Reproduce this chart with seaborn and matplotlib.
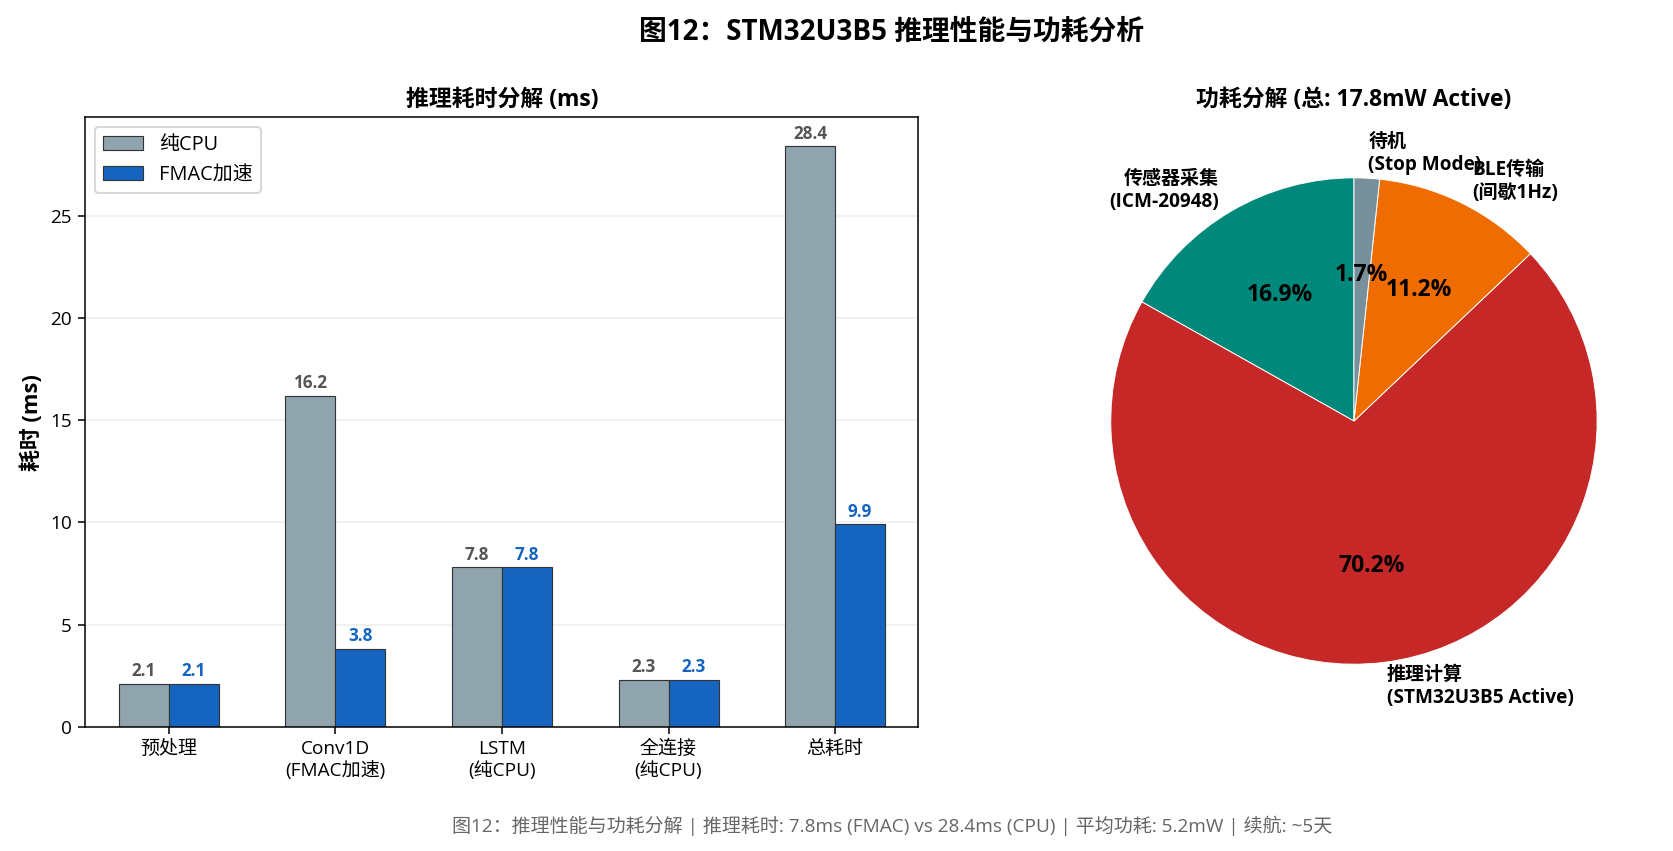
import matplotlib
matplotlib.use('Agg')
import matplotlib.pyplot as plt
import seaborn as sns
import pandas as pd

sns.set_style('ticks')
plt.rcParams['font.family'] = ['Open Sans', 'Noto Sans CJK SC', 'DejaVu Sans']
plt.rcParams.update({'axes.unicode_minus': False, 'text.color': 'black',
                     'axes.labelcolor': 'black', 'xtick.color': 'black', 'ytick.color': 'black'})

# --- data ---
stages = ['预处理', 'Conv1D\n(FMAC加速)', 'LSTM\n(纯CPU)', '全连接\n(纯CPU)', '总耗时']
cpu_ms = [2.1, 16.2, 7.8, 2.3, 28.4]
fmac_ms = [2.1, 3.8, 7.8, 2.3, 9.9]
series_names = ['纯CPU', 'FMAC加速']
bar_colors = ['#90A4AE', '#1565C0']
label_colors = ['#555555', '#1565C0']

power_labels = ['传感器采集\n(ICM-20948)', '推理计算\n(STM32U3B5 Active)', 'BLE传输\n(间歇1Hz)', '待机\n(Stop Mode)']
power_mw = [3.0, 12.5, 2.0, 0.3]
pie_colors = ['#00897B', '#C62828', '#EF6C00', '#78909C']

df = pd.DataFrame({
    'stage': stages * 2,
    'ms': cpu_ms + fmac_ms,
    'mode': [series_names[0]] * len(stages) + [series_names[1]] * len(stages),
})

DPI = 137
fig = plt.figure(figsize=(1673 / DPI, 851 / DPI), dpi=DPI)
fig.suptitle('图12：STM32U3B5 推理性能与功耗分析', fontsize=14.6, fontweight='bold', x=0.533, y=0.979)

# --- 1. inference time bars ---
ax1 = fig.add_axes([0.051, 0.146, 0.498, 0.716])
sns.barplot(data=df, x='stage', y='ms', hue='mode', palette=bar_colors, width=0.6,
            edgecolor='#333333', linewidth=0.6, saturation=1, ax=ax1)
for cont, c in zip(ax1.containers, label_colors):
    ax1.bar_label(cont, fmt='%.1f', padding=2, fontsize=9, fontweight='bold', color=c)
ax1.set_ylim(0, max(cpu_ms) * 1.05)
ax1.set_title('推理耗时分解 (ms)', fontsize=12, fontweight='bold')
ax1.set_xlabel('')
ax1.set_ylabel('耗时 (ms)', fontsize=11.5, fontweight='bold')
ax1.tick_params(labelsize=10)
ax1.yaxis.grid(True, alpha=0.35)
ax1.set_axisbelow(True)
ax1.legend(loc='upper left', fontsize=10.5, title=None)
for s in ax1.spines.values():
    s.set_visible(True)
    s.set_color('black')

# --- 2. power pie ---
ax2 = fig.add_axes([0.6276, 0.148, 0.3634, 0.7145])
wedges, texts, autotexts = ax2.pie(power_mw, labels=power_labels, colors=pie_colors,
                                   autopct='%1.1f%%', startangle=90,
                                   wedgeprops={'edgecolor': 'white', 'linewidth': 0.5},
                                   textprops={'fontsize': 10, 'fontweight': 'bold', 'color': 'black'})
for t in autotexts:
    t.set_fontsize(12)
    t.set_fontweight('bold')
ax2.set_xlim(-1.25, 1.25)
ax2.set_ylim(-1.25, 1.25)
ax2.set_title('功耗分解 (总: 17.8mW Active)', fontsize=12, fontweight='bold')

fig.text(0.533, 0.022, '图12：推理性能与功耗分解 | 推理耗时: 7.8ms (FMAC) vs 28.4ms (CPU) | 平均功耗: 5.2mW | 续航: ~5天',
         ha='center', fontsize=10, color='#666666')

fig.savefig('out.png', dpi=DPI, facecolor='white')
plt.close()
